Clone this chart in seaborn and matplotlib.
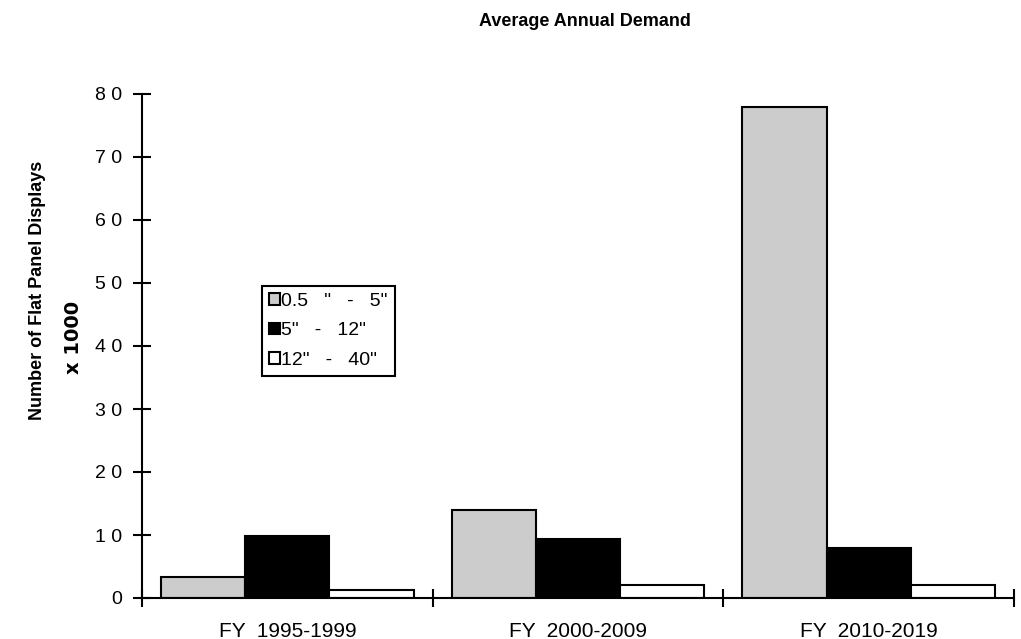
import pandas as pd
import matplotlib
matplotlib.use("Agg")
import matplotlib.pyplot as plt
import seaborn as sns
from matplotlib.patches import Patch

# data
periods = ["FY  1995-1999", "FY  2000-2009", "FY  2010-2019"]
sizes = ['0.5   "   -   5"', '5"   -   12"', '12"   -   40"']
small = [3.3, 13.9, 77.9]
medium = [9.8, 9.3, 8.0]
large = [1.3, 2.0, 2.0]
yticks = [0, 10, 20, 30, 40, 50, 60, 70, 80]
colors = ["#cccccc", "#000000", "#ffffff"]

rows = []
for i, p in enumerate(periods):
    for s, vals in zip(sizes, [small, medium, large]):
        rows.append({"period": p, "size": s, "value": vals[i]})
df = pd.DataFrame(rows)

sns.set_style("white")
plt.rcParams["font.family"] = ["Liberation Sans", "DejaVu Sans"]
plt.rcParams["text.color"] = "black"
plt.rcParams["xtick.color"] = "black"
plt.rcParams["ytick.color"] = "black"

fig = plt.figure(figsize=(10.21, 6.39), dpi=100)
ax = fig.add_axes([142 / 1021, 41 / 639, 872 / 1021, 504 / 639])

sns.barplot(data=df, x="period", y="value", hue="size", palette=colors,
            width=0.87, edgecolor="black", linewidth=1.5, saturation=1,
            legend=False, ax=ax)

ax.set_xlim(-0.5, 2.5)
ax.set_ylim(0, 80)
ax.set_yticks(yticks)
ax.set_yticklabels([" ".join(str(v)) for v in yticks], fontsize=14)

# x ticks at group boundaries, labels at group centres
ax.set_xticks([-0.5, 0.5, 1.5, 2.5])
ax.set_xticklabels([])
ax.set_xticks([0, 1, 2], minor=True)
ax.set_xticklabels(periods, minor=True, fontsize=15)
ax.tick_params(axis="x", which="major", bottom=True, direction="inout", length=13,
               width=1.5, color="black")
ax.tick_params(axis="x", which="minor", bottom=True, length=0, pad=17)
ax.tick_params(axis="y", left=True, direction="inout", length=13, width=1.5,
               color="black", pad=8)

for side in ["top", "right"]:
    ax.spines[side].set_visible(False)
for side in ["left", "bottom"]:
    ax.spines[side].set_color("black")
    ax.spines[side].set_linewidth(1.5)
ax.set_xlabel("")
ax.set_ylabel("")

fig.text(585 / 1021, 1 - 22 / 639, "Average Annual Demand", ha="center", va="center",
         fontsize=13, fontweight="bold")
fig.text(38 / 1021, 1 - 290 / 639, "Number of Flat Panel Displays", rotation=90,
         ha="center", va="center", fontsize=13, fontweight="bold")
fig.text(73 / 1021, 1 - 337 / 639, "x 1000", rotation=90, ha="center", va="center",
         fontsize=14, fontweight="heavy", family=["DejaVu Sans"])

handles = [Patch(facecolor=c, edgecolor="black", linewidth=1.5) for c in colors]
leg = ax.legend(handles, sizes, loc="upper left",
                bbox_to_anchor=(262 / 1021, 1 - 286 / 639), bbox_transform=fig.transFigure,
                borderaxespad=0, fontsize=14, handlelength=0.55, handleheight=0.55,
                handletextpad=0.1, labelspacing=0.65, borderpad=0.35,
                fancybox=False, framealpha=1, edgecolor="black")
leg.get_frame().set_linewidth(1.5)

fig.savefig("out.png", dpi=100)
